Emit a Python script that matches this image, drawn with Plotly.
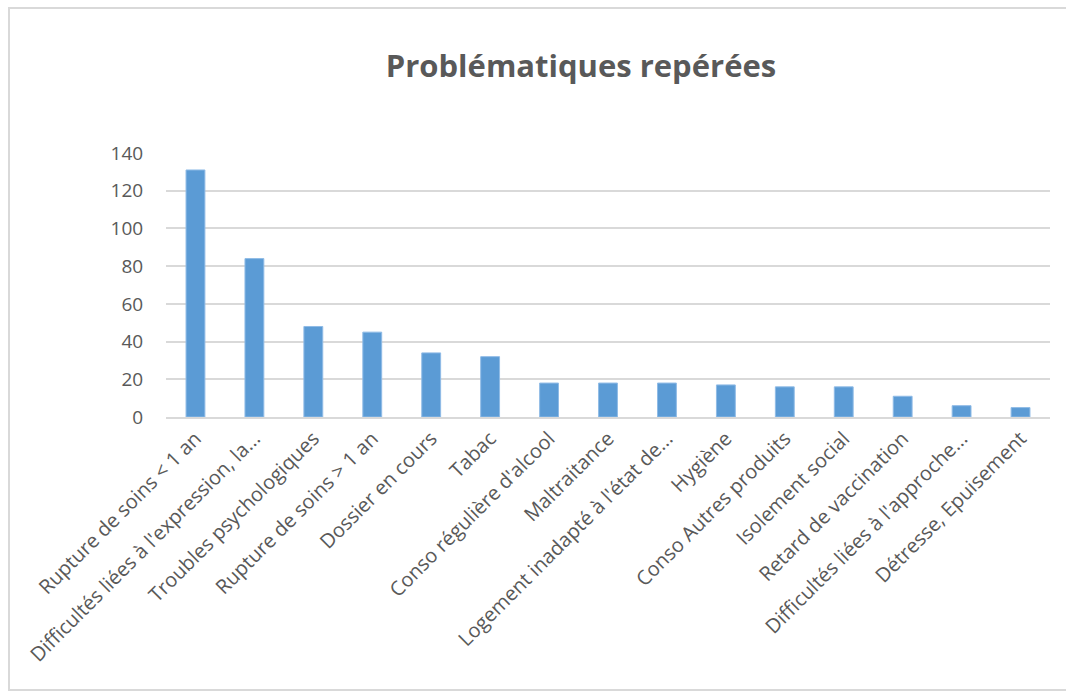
import plotly.graph_objects as go

categories = [
    "Rupture de soins < 1 an",
    "Difficultés liées à l'expression, la...",
    "Troubles psychologiques",
    "Rupture de soins > 1 an",
    "Dossier en cours",
    "Tabac",
    "Conso régulière d'alcool",
    "Maltraitance",
    "Logement inadapté à l'état de...",
    "Hygiène",
    "Conso Autres produits",
    "Isolement social",
    "Retard de vaccination",
    "Difficultés liées à l'approche...",
    "Détresse, Epuisement",
]
values = [131, 84, 48, 45, 34, 32, 18, 18, 18, 17, 16, 16, 11, 6, 5]
y_ticks = [0, 20, 40, 60, 80, 100, 120, 140]

FONT = "Open Sans, Lato, sans-serif"
GREY = "#595959"

fig = go.Figure(
    go.Bar(
        x=categories,
        y=values,
        marker=dict(color="#5b9bd5", line=dict(color="#8fbbe6", width=1)),
    )
)

fig.update_layout(
    width=1066,
    height=693,
    paper_bgcolor="white",
    plot_bgcolor="white",
    margin=dict(l=166, r=16, t=153, b=276),
    bargap=0.68,
    showlegend=False,
    title=dict(
        text="<b>Problématiques repérées</b>",
        x=0.545,
        xanchor="center",
        y=0.905,
        yanchor="middle",
        font=dict(family=FONT, size=31, color=GREY),
    ),
    font=dict(family=FONT, color=GREY),
    shapes=[
        dict(
            type="rect", xref="paper", yref="paper",
            x0=-157 / 884, x1=1.0 + 40 / 884,
            y0=-273 / 264, y1=1.0 + 145 / 264,
            line=dict(color="#d9d9d9", width=2),
            fillcolor="rgba(0,0,0,0)",
            layer="below",
        )
    ],
)

fig.update_xaxes(
    tickangle=-45,
    tickfont=dict(family=FONT, size=20, color=GREY),
    showgrid=False,
    showline=True,
    linecolor="#d9d9d9",
    linewidth=2,
    ticks="",
)
fig.update_yaxes(
    range=[0, 140],
    tickvals=y_ticks,
    tickfont=dict(family=FONT, size=19, color=GREY),
    showgrid=True,
    gridcolor="#d9d9d9",
    gridwidth=2,
    zeroline=False,
    showline=False,
    ticks="outside",
    ticklen=18,
    tickcolor="white",
)

fig.write_html("out.html")
